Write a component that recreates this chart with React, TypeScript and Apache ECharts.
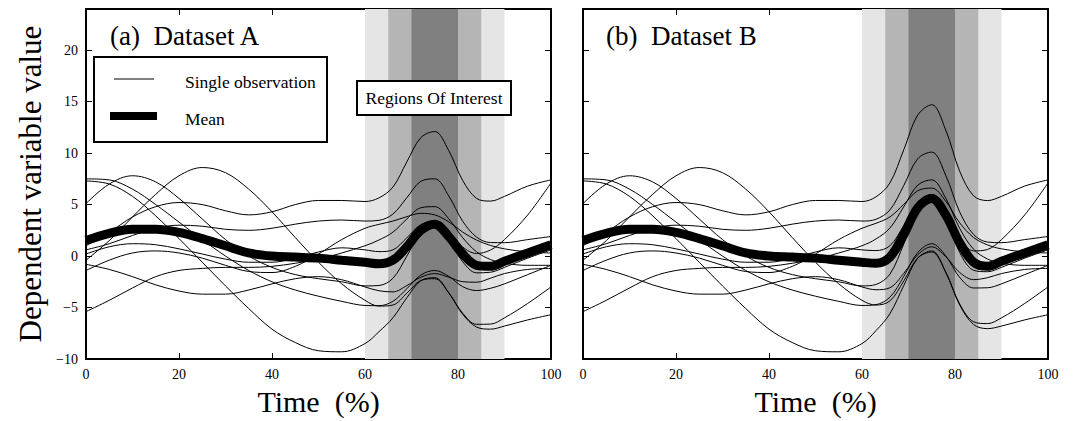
import React, { useEffect, useRef } from "react";
import * as echarts from "echarts";

// Time (%) sample positions
const X = [0, 5, 10, 15, 20, 25, 30, 35, 40, 45, 50, 55, 60, 63, 66, 69, 72, 75, 78, 81, 84, 87, 90, 95, 100];

// Dataset A – single observations
const a1 = [7.3, 7.0, 5.8, 3.9, 1.7, -0.6, -2.9, -5.1, -7.1, -8.4, -9.2, -9.3, -8.5, -7.35, -6.0, -4.05, -2.4, -2.1, -3.55, -5.65, -6.9, -7.1, -6.8, -6.2, -5.7];
const a2 = [7.5, 7.4, 6.5, 5.0, 3.3, 1.6, 0.0, -1.4, -2.5, -3.3, -3.9, -4.4, -4.8, -4.82, -4.4, -3.17, -1.85, -1.4, -1.97, -2.97, -3.35, -3.13, -2.7, -1.8, -0.9];
const a3 = [5.1, 7.0, 7.8, 7.2, 5.6, 3.6, 1.6, 0.0, -1.1, -1.8, -2.2, -2.5, -2.9, -2.86, -2.16, -0.01, 2.23, 3.0, 1.63, -0.55, -1.63, -1.57, -1.1, -0.2, 0.6];
const a4 = [-0.4, 1.5, 3.8, 6.0, 7.8, 8.6, 8.1, 6.5, 4.3, 1.8, -0.6, -2.7, -4.3, -4.86, -4.76, -3.61, -2.37, -2.2, -3.57, -5.55, -6.63, -6.61, -6.0, -4.6, -3.0];
const a5 = [1.0, 2.3, 3.8, 4.8, 5.2, 5.0, 4.4, 4.0, 4.3, 5.0, 5.4, 5.4, 5.3, 5.65, 6.7, 9.15, 11.5, 12.1, 10.25, 7.35, 5.6, 5.34, 5.8, 6.8, 7.4];
const a6 = [0.6, 1.2, 2.0, 2.7, 3.0, 2.9, 2.6, 2.5, 2.7, 3.1, 3.4, 3.5, 3.4, 3.47, 4.08, 5.67, 7.26, 7.5, 5.85, 3.39, 1.84, 1.31, 1.3, 1.6, 1.9];
const a7 = [-0.8, -1.3, -2.0, -2.8, -3.4, -3.7, -3.7, -3.3, -2.7, -2.2, -2.0, -2.3, -3.0, -3.37, -3.48, -2.87, -2.06, -1.7, -2.05, -2.49, -2.54, -2.15, -1.7, -1.3, -1.2];
const a8 = [-5.4, -4.3, -3.1, -2.0, -1.4, -1.2, -1.1, -1.1, -1.0, -0.7, -0.3, 0.3, 1.0, 1.56, 2.32, 3.6, 4.69, 4.8, 3.63, 1.79, 0.41, -0.34, -0.7, -0.9, -0.9];
const a9 = [-1.4, -0.4, 0.3, 0.5, 0.3, -0.2, -0.9, -1.5, -1.6, -1.0, 0.2, 1.6, 2.7, 3.08, 3.4, 3.83, 4.15, 4.0, 3.33, 2.33, 1.55, 1.03, 0.7, 0.4, 0.3];
const a10 = [0.2, 0.9, 1.2, 1.1, 0.7, 0.2, -0.3, -0.6, -0.6, -0.2, 0.4, 0.8, 0.6, 0.43, 0.6, 1.78, 3.05, 3.4, 2.38, 0.88, 0.25, 0.59, 1.6, 4.0, 7.1];
const meanA = [1.5, 2.2, 2.6, 2.6, 2.3, 1.7, 1.0, 0.3, 0.0, -0.1, -0.2, -0.4, -0.6, -0.75, -0.4, 0.9, 2.5, 3.1, 1.9, 0.2, -0.9, -1.0, -0.5, 0.3, 1.1];

// Dataset B – single observations
const b1 = [7.3, 7.0, 5.8, 3.9, 1.7, -0.6, -2.9, -5.1, -7.1, -8.4, -9.2, -9.3, -8.5, -7.25, -5.6, -2.85, -0.2, 0.5, -1.55, -4.75, -6.65, -7.05, -6.8, -6.2, -5.7];
const b2 = [7.5, 7.4, 6.5, 5.0, 3.3, 1.6, 0.0, -1.4, -2.5, -3.3, -3.9, -4.4, -4.8, -4.72, -4.0, -1.97, 0.35, 1.2, 0.03, -2.07, -3.1, -3.08, -2.7, -1.8, -0.9];
const b3 = [5.1, 7.0, 7.8, 7.2, 5.6, 3.6, 1.6, 0.0, -1.1, -1.8, -2.2, -2.5, -2.9, -2.76, -1.76, 1.19, 4.43, 5.6, 3.63, 0.35, -1.38, -1.52, -1.1, -0.2, 0.6];
const b4 = [-0.4, 1.5, 3.8, 6.0, 7.8, 8.6, 8.1, 6.5, 4.3, 1.8, -0.6, -2.7, -4.3, -4.76, -4.36, -2.41, -0.17, 0.4, -1.57, -4.65, -6.38, -6.56, -6.0, -4.6, -3.0];
const b5 = [1.0, 2.3, 3.8, 4.8, 5.2, 5.0, 4.4, 4.0, 4.3, 5.0, 5.4, 5.4, 5.3, 5.75, 7.1, 10.35, 13.7, 14.7, 12.25, 8.25, 5.85, 5.39, 5.8, 6.8, 7.4];
const b6 = [0.6, 1.2, 2.0, 2.7, 3.0, 2.9, 2.6, 2.5, 2.7, 3.1, 3.4, 3.5, 3.4, 3.57, 4.48, 6.87, 9.46, 10.1, 7.85, 4.29, 2.09, 1.36, 1.3, 1.6, 1.9];
const b7 = [-0.8, -1.3, -2.0, -2.8, -3.4, -3.7, -3.7, -3.3, -2.7, -2.2, -2.0, -2.3, -3.0, -3.27, -3.08, -1.67, 0.14, 0.9, -0.05, -1.59, -2.29, -2.1, -1.7, -1.3, -1.2];
const b8 = [-5.4, -4.3, -3.1, -2.0, -1.4, -1.2, -1.1, -1.1, -1.0, -0.7, -0.3, 0.3, 1.0, 1.66, 2.72, 4.8, 6.89, 7.4, 5.63, 2.69, 0.66, -0.29, -0.7, -0.9, -0.9];
const b9 = [-1.4, -0.4, 0.3, 0.5, 0.3, -0.2, -0.9, -1.5, -1.6, -1.0, 0.2, 1.6, 2.7, 3.18, 3.8, 5.03, 6.35, 6.6, 5.33, 3.23, 1.8, 1.08, 0.7, 0.4, 0.3];
const b10 = [0.2, 0.9, 1.2, 1.1, 0.7, 0.2, -0.3, -0.6, -0.6, -0.2, 0.4, 0.8, 0.6, 0.53, 1.0, 2.98, 5.25, 6.0, 4.38, 1.78, 0.5, 0.64, 1.6, 4.0, 7.1];
const meanB = [1.5, 2.2, 2.6, 2.6, 2.3, 1.7, 1.0, 0.3, 0.0, -0.1, -0.2, -0.4, -0.6, -0.7, -0.1, 2.1, 4.7, 5.6, 4.0, 1.3, -0.6, -1.0, -0.5, 0.3, 1.1];

const obsA = [a1, a2, a3, a4, a5, a6, a7, a8, a9, a10];
const obsB = [b1, b2, b3, b4, b5, b6, b7, b8, b9, b10];

// Regions of interest (Time %)
const roiBands = [
  { from: 60, to: 90, color: "#e5e5e5" },
  { from: 65, to: 85, color: "#b5b5b5" },
  { from: 70, to: 80, color: "#808080" },
];

const xTicks = { min: 0, max: 100, interval: 20 };
const yTicks = { min: -10, max: 24, interval: 5 };

const panelTitles = ["(a)  Dataset A", "(b)  Dataset B"];
const FONT = '"Liberation Serif", "Times New Roman", Times, serif';
const FONT_PLAIN = "Liberation Serif";

function pairs(ys: number[]) {
  return X.map((x, i) => [x, ys[i]]);
}

function fmtY(v: number) {
  if (v > 20) return "";
  return v < 0 ? "\u2212" + Math.abs(v) : String(v);
}

export default function App() {
  const ref = useRef<HTMLDivElement>(null);
  useEffect(() => {
    const chart = echarts.init(ref.current!, null, { renderer: "svg" });
    const grids = [
      { left: 86, top: 9, width: 465, height: 350 },
      { left: 583, top: 9, width: 465, height: 350 },
    ];
    const axisLine = { show: true, onZero: false, lineStyle: { color: "#000", width: 2 } };
    const axisTick = { show: true, inside: true, length: 6, lineStyle: { color: "#000", width: 1 } };
    const xAxis: any[] = [];
    const yAxis: any[] = [];
    grids.forEach((_, g) => {
      xAxis.push({
        gridIndex: g, type: "value", ...xTicks, position: "bottom",
        axisLine, axisTick, splitLine: { show: false },
        axisLabel: { color: "#000", fontFamily: FONT_PLAIN, fontSize: 14, margin: 8 },
      });
      xAxis.push({
        gridIndex: g, type: "value", ...xTicks, position: "top",
        axisLine, axisTick, splitLine: { show: false }, axisLabel: { show: false },
      });
      yAxis.push({
        gridIndex: g, type: "value", ...yTicks, position: "left",
        axisLine, axisTick, splitLine: { show: false },
        axisLabel: { show: g === 0, color: "#000", fontFamily: FONT_PLAIN, fontSize: 14, margin: 8, formatter: fmtY },
      });
      yAxis.push({
        gridIndex: g, type: "value", ...yTicks, position: "right",
        axisLine, axisTick, splitLine: { show: false }, axisLabel: { show: false },
      });
    });

    const series: any[] = [];
    [obsA, obsB].forEach((obs, g) => {
      const xi = 2 * g, yi = 2 * g;
      series.push({
        type: "line", xAxisIndex: xi, yAxisIndex: yi, z: 1, silent: true,
        data: [[0, 0], [100, 0]], showSymbol: false, lineStyle: { opacity: 0 },
        markArea: {
          silent: true,
          data: roiBands.map((b) => [
            { xAxis: b.from, itemStyle: { color: b.color, opacity: 1 } },
            { xAxis: b.to },
          ]),
        },
      });
      obs.forEach((ys) => {
        series.push({
          type: "line", xAxisIndex: xi, yAxisIndex: yi, z: 3, silent: true,
          data: pairs(ys), smooth: 0.35, showSymbol: false,
          lineStyle: { color: "#000", width: 1 },
        });
      });
      series.push({
        type: "line", xAxisIndex: xi, yAxisIndex: yi, z: 4, silent: true,
        data: pairs(g === 0 ? meanA : meanB), smooth: 0.35, showSymbol: false,
        lineStyle: { color: "#000", width: 9, cap: "butt" },
      });
    });

    const text = (t: string, x: number, y: number, size: number, extra: any = {}) => ({
      type: "text", x, y, z: 120,
      style: { text: t, fill: "#000", font: `${size}px ${FONT}`, textVerticalAlign: "middle", ...extra.style },
      ...extra.el,
    });

    const graphic: any[] = [
      text(panelTitles[0], 110, 36, 27),
      text(panelTitles[1], 606, 36, 27),
      { type: "rect", z: 110, shape: { x: 94, y: 57, width: 233, height: 85 }, style: { fill: "#fff", stroke: "#000", lineWidth: 2 } },
      { type: "line", z: 111, shape: { x1: 114, y1: 79, x2: 154, y2: 79 }, style: { stroke: "#000", lineWidth: 1 } },
      { type: "line", z: 111, shape: { x1: 110, y1: 116, x2: 157, y2: 116 }, style: { stroke: "#000", lineWidth: 8 } },
      text("Single observation", 185, 82, 17.5),
      text("Mean", 185, 119, 17.5),
      { type: "rect", z: 110, shape: { x: 357, y: 81, width: 154, height: 34 }, style: { fill: "#fff", stroke: "#000", lineWidth: 2 } },
      text("Regions Of Interest", 434, 98, 17.5, { style: { textAlign: "center" } }),
      text("Time  (%)", 318.5, 401, 30, { style: { textAlign: "center" } }),
      text("Time  (%)", 815.5, 401, 30, { style: { textAlign: "center" } }),
      text("Dependent variable value", 30, 184, 31, { style: { textAlign: "center" }, el: { rotation: Math.PI / 2 } }),
    ];

    chart.setOption({
      animation: false,
      backgroundColor: "#fff",
      grid: grids,
      xAxis,
      yAxis,
      series,
      graphic: { elements: graphic },
    });
    return () => chart.dispose();
  }, []);
  return (
    <div
      ref={ref}
      style={{ position: "fixed", left: 0, top: 0, width: 1075, height: 421, background: "#fff" }}
    />
  );
}
